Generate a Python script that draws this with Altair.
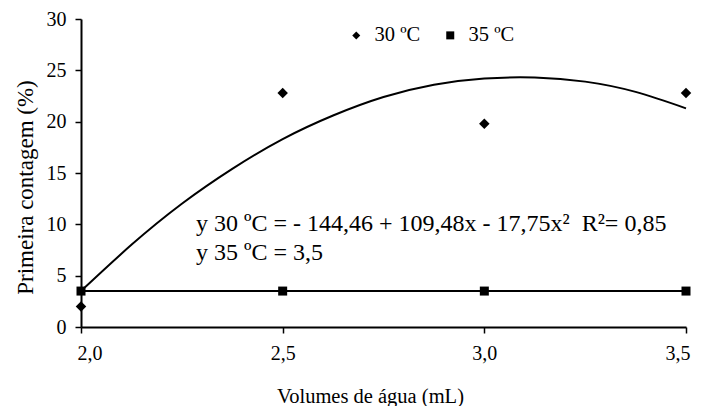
import altair as alt
import pandas as pd

# Observed data
volumes = [2.0, 2.5, 3.0, 3.5]
y_30 = [2.0, 22.8, 19.8, 22.8]
y_35 = [3.5, 3.5, 3.5, 3.5]
series_names = ["30 ºC", "35 ºC"]

# Fitted curve (30 ºC)
curve_x = [2.0, 2.125, 2.25, 2.375, 2.5, 2.625, 2.75, 2.875, 3.0, 3.125, 3.25, 3.375, 3.5]
curve_y = [3.5, 8.0, 12.0, 15.4, 18.3, 20.6, 22.4, 23.6, 24.2, 24.3, 23.9, 22.9, 21.3]

# Trend line (35 ºC)
trend35_x = [2.0, 3.5]
trend35_y = [3.5, 3.5]

eq_line1 = "y 30 ºC = - 144,46 + 109,48x - 17,75x²\u00a0 R²= 0,85"
eq_line2 = "y 35 ºC = 3,5"

FONT = "Liberation Serif"

p30 = pd.DataFrame({"vol": volumes, "val": y_30, "serie": [series_names[0]] * len(volumes)})
p35 = pd.DataFrame({"vol": volumes, "val": y_35, "serie": [series_names[1]] * len(volumes)})
curve = pd.DataFrame({"vol": curve_x, "val": curve_y})
trend35 = pd.DataFrame({"vol": trend35_x, "val": trend35_y})

xscale = alt.Scale(domain=[2.0, 3.5], nice=False, zero=False)
yscale = alt.Scale(domain=[0, 30], nice=False)

xaxis = alt.Axis(
    title="Volumes de água (mL)",
    values=volumes,
    labelExpr="replace(format(datum.value, '.1f'), '.', ',')",
    grid=False, domainColor="black", domainWidth=2, tickColor="black",
    tickWidth=1.5, tickSize=6, labelPadding=10, labelFlush=True, labelFlushOffset=4,
    labelFont=FONT, labelFontSize=20, labelColor="black",
    titleFont=FONT, titleFontSize=20.5, titleFontWeight="normal", titleColor="black",
    titleX=289, titleY=75, titleBaseline="alphabetic", titleAnchor="middle",
)
yaxis = alt.Axis(
    title="Primeira contagem (%)",
    values=[0, 5, 10, 15, 20, 25, 30],
    grid=False, domainColor="black", domainWidth=2, tickColor="black",
    tickWidth=1.5, tickSize=6, labelPadding=9,
    labelFont=FONT, labelFontSize=20, labelColor="black",
    titleFont=FONT, titleFontSize=23, titleFontWeight="normal", titleColor="black",
    titleX=-56, titleY=168, titleBaseline="middle", titleAngle=-90, titleAlign="center",
)

shape_scale = alt.Scale(domain=series_names, range=["diamond", "square"])
shape_legend = alt.Legend(
    title=None, orient="none", direction="horizontal",
    legendX=265, legendY=6, padding=0,
    symbolSize=64, symbolFillColor="black", symbolStrokeColor="black",
    symbolStrokeWidth=0, labelFont=FONT, labelFontSize=20.5,
    labelColor="black", labelOffset=8, columnPadding=19,
)

base_x = alt.X("vol:Q", scale=xscale, axis=xaxis)
base_y = alt.Y("val:Q", scale=yscale, axis=yaxis)

curve_layer = alt.Chart(curve).mark_line(
    color="black", strokeWidth=2, interpolate="natural"
).encode(x=base_x, y=base_y)

trend_layer = alt.Chart(trend35).mark_line(
    color="black", strokeWidth=2
).encode(x=alt.X("vol:Q", scale=xscale), y=alt.Y("val:Q", scale=yscale))

pts30 = alt.Chart(p30).mark_point(filled=True, color="black", opacity=1, size=110).encode(
    x=alt.X("vol:Q", scale=xscale),
    y=alt.Y("val:Q", scale=yscale),
    shape=alt.Shape("serie:N", scale=shape_scale, legend=shape_legend),
)
pts35 = alt.Chart(p35).mark_point(filled=True, color="black", opacity=1, size=81).encode(
    x=alt.X("vol:Q", scale=xscale),
    y=alt.Y("val:Q", scale=yscale),
    shape=alt.Shape("serie:N", scale=shape_scale, legend=shape_legend),
)

text1 = alt.Chart().mark_text(
    align="left", baseline="alphabetic", font=FONT, fontSize=24, color="black"
).encode(x=alt.datum(2.285), y=alt.datum(9.35), text=alt.value(eq_line1))

text2 = alt.Chart().mark_text(
    align="left", baseline="alphabetic", font=FONT, fontSize=24, color="black"
).encode(x=alt.datum(2.285), y=alt.datum(6.5), text=alt.value(eq_line2))

chart = alt.layer(curve_layer, trend_layer, pts30, pts35, text1, text2).properties(
    width=605, height=308,
    autosize=alt.AutoSizeParams(type="none"),
    padding={"left": 81, "top": 19, "right": 17, "bottom": 79},
    background="white",
).configure_view(stroke=None)

chart.save("out.html", embed_options={"renderer": "svg", "actions": False})
